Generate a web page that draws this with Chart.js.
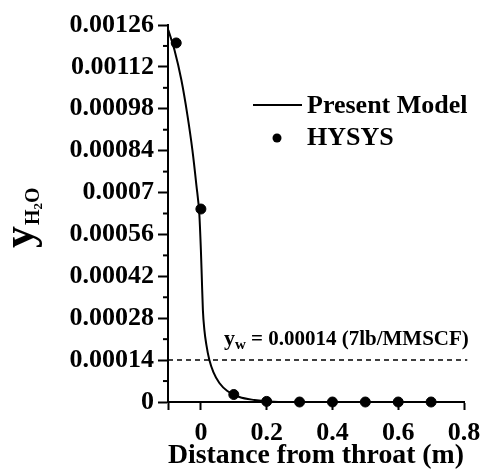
<!DOCTYPE html>
<html>
<head>
<meta charset="utf-8">
<script src="https://cdn.jsdelivr.net/npm/chart.js@4.4.1/dist/chart.umd.min.js"></script>
<style>
    html, body { margin: 0; padding: 0; background: #ffffff; }
    #box { width: 481px; height: 470px; }
</style>
</head>
<body>
<div id="box"><canvas id="grafico"></canvas></div>
<script>
// Present Model (curve)
var modeloX = [-0.099, -0.0805, -0.0593, -0.041, -0.0258, -0.0137, -0.0046, 0, 0.003, 0.0061, 0.0106, 0.0167, 0.0258, 0.038, 0.0562, 0.0805, 0.117, 0.1626, 0.208, 0.269, 0.5, 0.7];
var modeloY = [0.001243, 0.001177, 0.001076, 0.000959, 0.000842, 0.000725, 0.000625, 0.000508, 0.000408, 0.000307, 0.000241, 0.000191, 0.00014, 0.0001, 0.0000635, 0.0000368, 0.0000167, 0.0000067, 0.0000017, 0, 0, 0];

// HYSYS (points)
var hysysX = [-0.075, 0, 0.1, 0.2, 0.3, 0.4, 0.5, 0.6, 0.7];
var hysysY = [0.0012, 0.000645, 0.000025, 0.000002, 0, 0, 0, 0, 0];

// limite y_w
var limiteX = [-0.1, 0.81];
var limiteY = [0.00014, 0.00014];

var xTicks = [-0.1, 0, 0.2, 0.4, 0.6, 0.8];
var xLabels = ["", "0", "0.2", "0.4", "0.6", "0.8"];
var yTicks = [0, 0.00014, 0.00028, 0.00042, 0.00056, 0.0007, 0.00084, 0.00098, 0.00112, 0.00126];
var yLabels = ["0", "0.00014", "0.00028", "0.00042", "0.00056", "0.0007", "0.00084", "0.00098", "0.00112", "0.00126"];

var fonte = "'Liberation Serif', 'Times New Roman', serif";

function pontos(xs, ys) {
    var lista = [];
    for (var i = 0; i < xs.length; i++) {
        lista.push({ x: xs[i], y: ys[i] });
    }
    return lista;
}

// ticks menores, legenda, titulo do eixo y e texto do limite
var extras = {
    id: "extras",
    afterDraw: function (chart) {
        var ctx = chart.ctx;
        var xs = chart.scales.x;
        var ys = chart.scales.y;
        var area = chart.chartArea;
        ctx.save();
        ctx.strokeStyle = "#000";
        ctx.fillStyle = "#000";

        // ticks menores do eixo y
        ctx.lineWidth = 2;
        for (var i = 0; i < yTicks.length - 1; i++) {
            var py = ys.getPixelForValue((yTicks[i] + yTicks[i + 1]) / 2);
            ctx.beginPath();
            ctx.moveTo(area.left - 5, py);
            ctx.lineTo(area.left, py);
            ctx.stroke();
        }

        // legenda
        var ds = chart.data.datasets;
        ctx.font = "bold 26px " + fonte;
        ctx.textBaseline = "middle";
        ctx.textAlign = "left";
        ctx.beginPath();
        ctx.moveTo(253, 105);
        ctx.lineTo(302, 105);
        ctx.stroke();
        ctx.fillText(ds[0].label, 307, 106);
        ctx.beginPath();
        ctx.arc(277, 138, 4.5, 0, Math.PI * 2);
        ctx.fill();
        ctx.fillText(ds[1].label, 307, 138);

        // texto do limite
        var tx = xs.getPixelForValue(0.07);
        var ty = ys.getPixelForValue(limiteY[0]) - 15;
        ctx.textBaseline = "alphabetic";
        ctx.font = "bold 22px " + fonte;
        ctx.fillText("y", tx, ty);
        tx += ctx.measureText("y").width;
        ctx.font = "bold 15px " + fonte;
        ctx.fillText("w", tx, ty + 4);
        tx += ctx.measureText("w").width;
        ctx.font = "bold 21px " + fonte;
        ctx.fillText(" = 0.00014 (7lb/MMSCF)", tx, ty);

        // titulo do eixo y
        ctx.translate(33, 248);
        ctx.rotate(-Math.PI / 2);
        ctx.font = "bold 44px " + fonte;
        ctx.fillText("y", 0, 0);
        var w = ctx.measureText("y").width + 1;
        ctx.font = "bold 20px " + fonte;
        ctx.fillText("H", w, 6);
        w += ctx.measureText("H").width;
        ctx.font = "bold 13px " + fonte;
        ctx.fillText("2", w, 9);
        w += ctx.measureText("2").width;
        ctx.font = "bold 20px " + fonte;
        ctx.fillText("O", w, 6);
        ctx.restore();
    }
};

new Chart(document.getElementById("grafico"), {
    type: "line",
    data: {
        datasets: [{
            label: "Present Model",
            data: pontos(modeloX, modeloY),
            borderColor: "#000",
            borderWidth: 2,
            pointRadius: 0,
            cubicInterpolationMode: "monotone",
            clip: false
        },
        {
            label: "HYSYS",
            data: pontos(hysysX, hysysY),
            showLine: false,
            pointRadius: 5,
            pointBackgroundColor: "#000",
            pointBorderColor: "#000",
            clip: false
        },
        {
            label: "limite",
            data: pontos(limiteX, limiteY),
            borderColor: "#000",
            borderWidth: 1.5,
            borderDash: [5, 4],
            pointRadius: 0,
            clip: false
        }]
    },
    options: {
        responsive: true,
        maintainAspectRatio: false,
        animation: false,
        layout: { padding: { top: 25, right: 17, left: 0, bottom: 0 } },
        plugins: {
            legend: { display: false },
            tooltip: { enabled: false }
        },
        scales: {
            x: {
                type: "linear",
                min: -0.1,
                max: 0.8,
                afterBuildTicks: function (scale) {
                    scale.ticks = xTicks.map(function (v) { return { value: v }; });
                },
                afterFit: function (scale) {
                    scale.height = 68;
                    scale.paddingLeft = 0;
                    scale.paddingRight = 0;
                },
                ticks: {
                    color: "#000",
                    padding: 8,
                    maxRotation: 0,
                    font: { family: fonte, size: 26, weight: "bold" },
                    callback: function (v, i) { return xLabels[i]; }
                },
                grid: { drawOnChartArea: false, tickLength: 8, tickWidth: 2, tickColor: "#000" },
                border: { color: "#000", width: 2 },
                title: {
                    display: true,
                    text: "Distance from throat (m)",
                    color: "#000",
                    padding: { top: 0, bottom: -3 },
                    font: { family: fonte, size: 28, weight: "bold" }
                }
            },
            y: {
                type: "linear",
                min: 0,
                max: 0.00126,
                afterBuildTicks: function (scale) {
                    scale.ticks = yTicks.map(function (v) { return { value: v }; });
                },
                afterFit: function (scale) {
                    scale.width = 168;
                    scale.paddingTop = 0;
                    scale.paddingBottom = 0;
                },
                ticks: {
                    color: "#000",
                    padding: 4,
                    font: { family: fonte, size: 26, weight: "bold" },
                    callback: function (v, i) { return yLabels[i]; }
                },
                grid: { drawOnChartArea: false, tickLength: 10, tickWidth: 2, tickColor: "#000" },
                border: { color: "#000", width: 2 }
            }
        }
    },
    plugins: [extras]
});
</script>
</body>
</html>
